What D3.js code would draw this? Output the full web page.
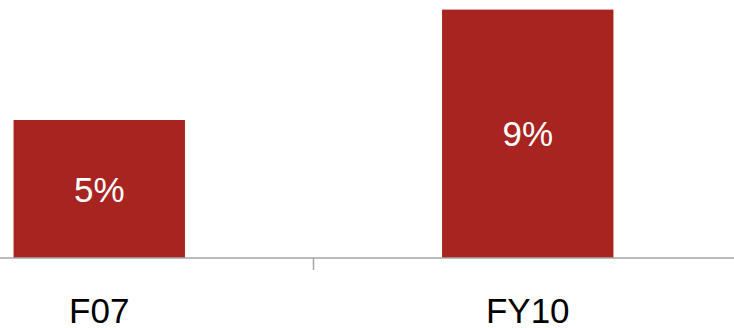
<!DOCTYPE html>
<html>
<head>
<meta charset="utf-8">
<script src="https://cdn.jsdelivr.net/npm/d3@7"></script>
<style>
  body { margin: 0; background: #fff; }
  svg { display: block; font-family: "Liberation Sans", Arial, sans-serif; }
</style>
</head>
<body>
<svg width="734" height="328"></svg>
<script>
const categories = ['F07', 'FY10'];
const values = [5, 9];
const valueLabels = ['5%', '9%'];

const svg = d3.select('svg');
const width = 734;
const baseY = 258;

// plot area runs past the left/right edges of the picture
const x = d3.scaleBand()
    .domain(categories)
    .range([-115, 742])
    .paddingInner(0.6)
    .paddingOuter(0.3);

const y = d3.scaleLinear()
    .domain([0, 10])
    .range([baseY, baseY - 276]);

svg.append('g')
    .selectAll('rect')
    .data(values)
    .join('rect')
    .attr('x', (d, i) => x(categories[i]))
    .attr('y', d => y(d))
    .attr('width', x.bandwidth())
    .attr('height', d => y(0) - y(d))
    .attr('fill', '#a82420');

svg.append('g')
    .selectAll('text')
    .data(values)
    .join('text')
    .attr('x', (d, i) => x(categories[i]) + x.bandwidth() / 2)
    .attr('y', d => (y(d) + y(0)) / 2)
    .attr('dy', '0.36em')
    .attr('text-anchor', 'middle')
    .attr('fill', '#fff')
    .attr('font-size', 35)
    .text((d, i) => valueLabels[i]);

// axis line
svg.append('line')
    .attr('x1', 0).attr('x2', width)
    .attr('y1', baseY).attr('y2', baseY)
    .attr('stroke', '#a6a6a6')
    .attr('stroke-width', 1.5);

// ticks between categories
const step = x.step();
const boundaries = categories.slice(1).map(c => x(c) - step * x.paddingInner() / 2);
svg.append('g')
    .selectAll('line')
    .data(boundaries)
    .join('line')
    .attr('x1', d => d).attr('x2', d => d)
    .attr('y1', baseY).attr('y2', baseY + 12)
    .attr('stroke', '#a6a6a6')
    .attr('stroke-width', 1.5);

svg.append('g')
    .selectAll('text')
    .data(categories)
    .join('text')
    .attr('x', d => x(d) + x.bandwidth() / 2)
    .attr('y', 323)
    .attr('text-anchor', 'middle')
    .attr('fill', '#000')
    .attr('font-size', 35)
    .text(d => d);
</script>
</body>
</html>
